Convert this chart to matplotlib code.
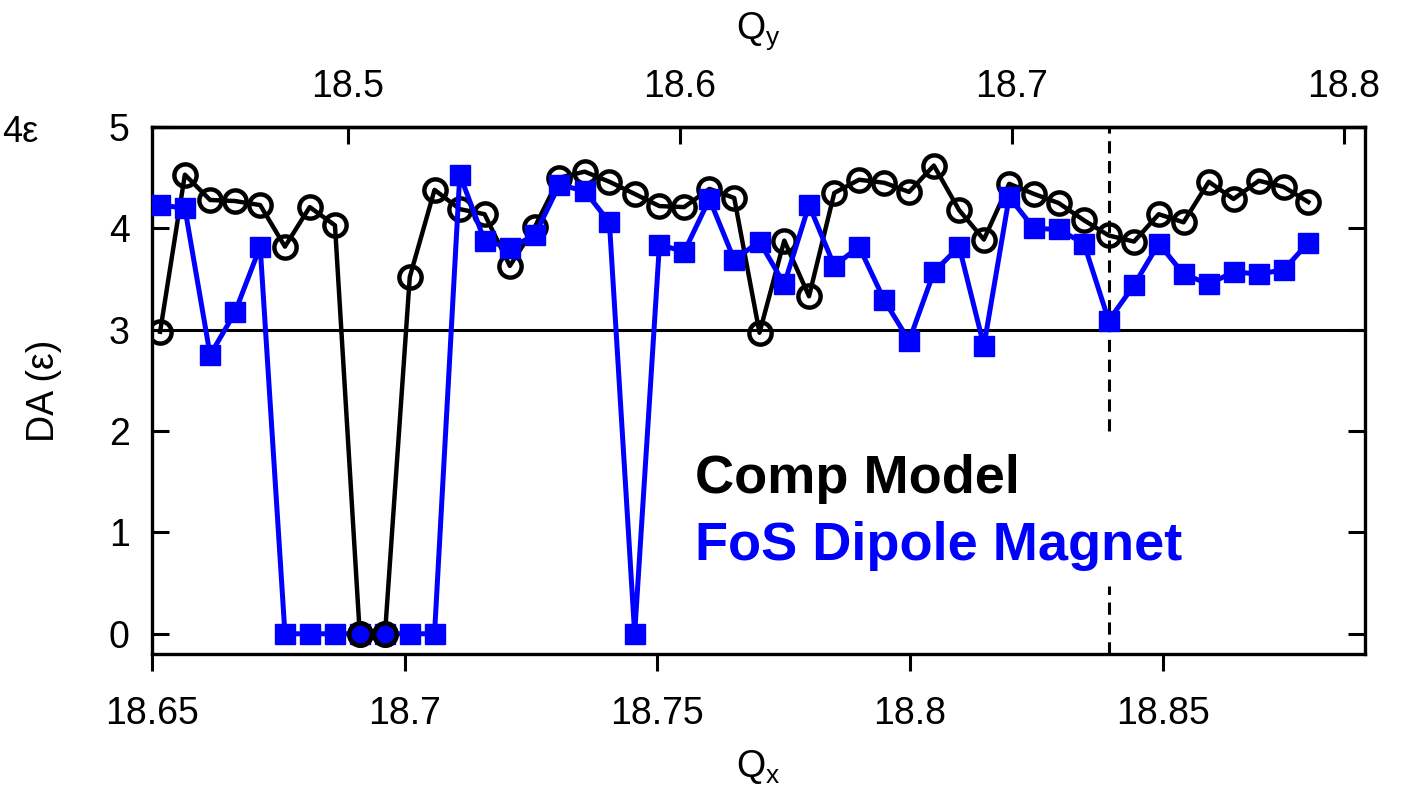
import matplotlib.pyplot as plt
import numpy as np

plt.rcParams['font.family'] = ['Liberation Sans', 'DejaVu Sans']
plt.rcParams['mathtext.fontset'] = 'custom'
plt.rcParams['mathtext.rm'] = 'Liberation Sans'

# tune scan points (Qx) and dynamic aperture values
qx = [18.6516, 18.6565, 18.6615, 18.6664, 18.6714, 18.6763, 18.6812, 18.6862,
      18.6911, 18.6961, 18.7010, 18.7059, 18.7109, 18.7158, 18.7208, 18.7257,
      18.7306, 18.7356, 18.7405, 18.7455, 18.7504, 18.7553, 18.7603, 18.7652,
      18.7702, 18.7751, 18.7800, 18.7850, 18.7899, 18.7949, 18.7998, 18.8047,
      18.8097, 18.8146, 18.8196, 18.8245, 18.8294, 18.8344, 18.8393, 18.8443,
      18.8492, 18.8541, 18.8591, 18.8640, 18.8690, 18.8739, 18.8788]

comp_model = [2.98, 4.53, 4.28, 4.27, 4.23, 3.82, 4.21, 4.03,
              0.0, 0.0, 3.52, 4.38, 4.19, 4.14, 3.63, 4.01,
              4.50, 4.56, 4.46, 4.34, 4.22, 4.21, 4.39, 4.30,
              2.97, 3.88, 3.33, 4.35, 4.48, 4.45, 4.36, 4.62,
              4.18, 3.89, 4.44, 4.34, 4.25, 4.08, 3.93, 3.87,
              4.14, 4.06, 4.46, 4.29, 4.47, 4.41, 4.26]

fos_dipole = [4.23, 4.20, 2.75, 3.17, 3.82, 0.0, 0.0, 0.0,
              0.0, 0.0, 0.0, 0.0, 4.53, 3.88, 3.81, 3.93,
              4.43, 4.37, 4.06, 0.0, 3.84, 3.77, 4.29, 3.69,
              3.87, 3.45, 4.23, 3.63, 3.82, 3.29, 2.89, 3.57,
              3.82, 2.84, 4.31, 4.00, 3.99, 3.85, 3.09, 3.44,
              3.85, 3.55, 3.45, 3.57, 3.55, 3.59, 3.86]

qx_ticks = [18.65, 18.7, 18.75, 18.8, 18.85]
qy_ticks = [18.5, 18.6, 18.7, 18.8]
da_ticks = [0, 1, 2, 3, 4, 5]

# linear relation between Qx and Qy along the scan line
qy_slope = 1.522
qx_at_qy0 = 18.6887
qy0 = 18.5
working_point = 18.8393


def qx_to_qy(x):
    return qy0 + (np.asarray(x) - qx_at_qy0) * qy_slope


def qy_to_qx(y):
    return qx_at_qy0 + (np.asarray(y) - qy0) / qy_slope


fig = plt.figure(figsize=(14.05, 7.92), dpi=100)
ax = fig.add_axes([0.1082, 0.1742, 0.8633, 0.6654])

ax.plot(qx, comp_model, color='black', lw=3.2, marker='o', ms=16,
        mfc='none', mec='black', mew=3.2, zorder=3)
ax.plot(qx, fos_dipole, color='#0000ff', lw=3.6, marker='s', ms=14.5,
        mfc='#0000ff', mec='#0000ff', mew=1, zorder=4)

# comp model points at zero sit on top of the blue squares
zx = [x for x, v in zip(qx, comp_model) if v == 0]
zv = [v for v in comp_model if v == 0]
ax.plot(zx, zv, ls='none', marker='o', ms=16, mfc='#0000ff', mec='black',
        mew=3.2, zorder=5)

ax.axhline(3, color='black', lw=2.2, zorder=2)
ax.plot([working_point, working_point], [2.0, 5.0], color='black', lw=2.2,
        ls=(0, (4, 2.5)), zorder=2)
ax.plot([working_point, working_point], [-0.2, 0.47], color='black', lw=2.2,
        ls=(0, (4, 2.5)), zorder=2)

ax.set_xlim(18.65, 18.89)
ax.set_ylim(-0.2, 5.0)
ax.set_xticks(qx_ticks)
ax.set_xticklabels(['18.65', '18.7', '18.75', '18.8', '18.85'])
ax.set_yticks(da_ticks)

ax.tick_params(axis='x', direction='out', length=12, width=2.2, pad=18,
               labelsize=27, top=False)
ax.tick_params(axis='y', direction='in', length=12, width=2.2, pad=16,
               labelsize=27, left=True, right=True)
for s in ax.spines.values():
    s.set_linewidth(2.4)

ax.set_xlabel('Q$_\\mathregular{x}$', fontsize=27, labelpad=12)
ax.set_ylabel('DA (ε)', fontsize=27, labelpad=34)

sec = ax.secondary_xaxis('top', functions=(qx_to_qy, qy_to_qx))
sec.set_xticks(qy_ticks)
sec.set_xticklabels(['18.5', '18.6', '18.7', '18.8'])
sec.tick_params(direction='in', length=12, width=2.2, pad=16, labelsize=27)
sec.spines['top'].set_linewidth(2.4)
sec.set_xlabel('Q$_\\mathregular{y}$', fontsize=27, labelpad=22)

ax.text(0.448, 0.305, 'Comp Model', transform=ax.transAxes, fontsize=39,
        fontweight='bold', color='black', va='baseline')
ax.text(0.448, 0.178, 'FoS Dipole Magnet', transform=ax.transAxes,
        fontsize=39, fontweight='bold', color='#0000ff', va='baseline')

fig.text(2 / 1405, 1 - 132 / 792, '4ε', fontsize=26, ha='left',
         va='center')

fig.savefig('out.png', dpi=100)
